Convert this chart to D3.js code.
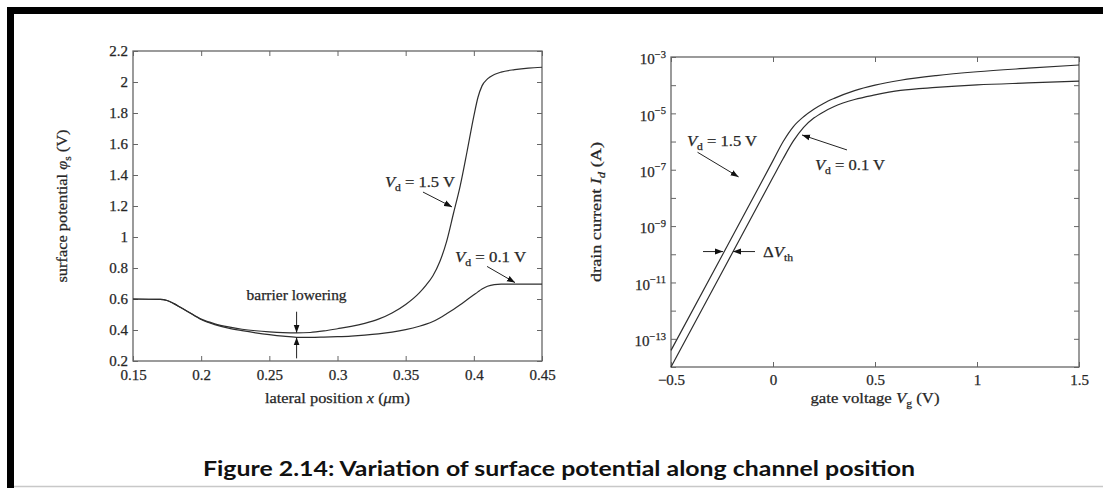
<!DOCTYPE html>
<html>
<head>
<meta charset="utf-8">
<script src="https://cdn.jsdelivr.net/npm/d3@7"></script>
<style>
  html, body { margin: 0; padding: 0; background: #fff; }
  svg { display: block; }
  .serif { font-family: "Liberation Serif", "DejaVu Serif", serif; fill: #262626; stroke: #262626; stroke-width: 0.25px; }
</style>
</head>
<body>
<svg id="chart" width="1103" height="488"></svg>
<script>
// ---------------- DATA ----------------
// Left panel: surface potential vs lateral position
const leftX = [0.15, 0.17, 0.175, 0.18, 0.185, 0.19, 0.2, 0.21, 0.22, 0.23, 0.24, 0.25, 0.26, 0.27, 0.28, 0.29, 0.30, 0.31, 0.32, 0.33, 0.34, 0.35, 0.36, 0.365, 0.37, 0.375, 0.38, 0.385, 0.39, 0.395, 0.40, 0.403, 0.406, 0.41, 0.415, 0.42, 0.43, 0.44, 0.45];
const leftVd15 = [0.6, 0.598, 0.59, 0.57, 0.545, 0.52, 0.47, 0.44, 0.42, 0.405, 0.395, 0.388, 0.383, 0.381, 0.384, 0.394, 0.408, 0.423, 0.443, 0.47, 0.51, 0.565, 0.64, 0.69, 0.75, 0.84, 0.97, 1.15, 1.33, 1.55, 1.78, 1.9, 1.975, 2.02, 2.048, 2.064, 2.08, 2.09, 2.095];
const leftVd01 = [0.6, 0.598, 0.59, 0.57, 0.545, 0.52, 0.468, 0.435, 0.412, 0.396, 0.382, 0.37, 0.36, 0.353, 0.352, 0.354, 0.357, 0.361, 0.367, 0.375, 0.386, 0.402, 0.424, 0.438, 0.455, 0.478, 0.505, 0.533, 0.563, 0.595, 0.627, 0.646, 0.664, 0.682, 0.693, 0.696, 0.696, 0.696, 0.696];
const leftXTicks = [0.15, 0.2, 0.25, 0.3, 0.35, 0.4, 0.45];
const leftYTicks = [0.2, 0.4, 0.6, 0.8, 1, 1.2, 1.4, 1.6, 1.8, 2, 2.2];

// Right panel: drain current vs gate voltage (log scale)
const rightVg   = [-0.5, -0.25, 0, 0.05, 0.1, 0.15, 0.2, 0.25, 0.3, 0.4, 0.5, 0.625, 0.8, 1.0, 1.25, 1.5];
const rightVd15 = [3.9e-14, 8.9e-11, 2.1e-7, 1.0e-6, 3.4e-6, 7.6e-6, 1.4e-5, 2.3e-5, 3.4e-5, 6.4e-5, 1.0e-4, 1.5e-4, 2.2e-4, 3.0e-4, 4.0e-4, 5.2e-4];
const rightVd01 = [1.0e-14, 2.3e-11, 5.4e-8, 2.5e-7, 1.05e-6, 3.2e-6, 6.8e-6, 1.15e-5, 1.75e-5, 3.1e-5, 4.5e-5, 6.5e-5, 8.3e-5, 1.02e-4, 1.2e-4, 1.4e-4];
const rightXTicks = [-0.5, 0, 0.5, 1, 1.5];
const rightYTicks = [1e-14, 1e-13, 1e-12, 1e-11, 1e-10, 1e-9, 1e-8, 1e-7, 1e-6, 1e-5, 1e-4, 1e-3];
const rightYLabelExps = [-3, -5, -7, -9, -11, -13];

const captionText = "Figure 2.14: Variation of surface potential along channel position";

// ---------------- DRAW ----------------
const svg = d3.select("#chart");
const INK = "#262626", LINE = "#2e2e2e", FRAME = "#666";

// page frame
svg.append("rect").attr("x", 7).attr("y", 7).attr("width", 1096).attr("height", 7).attr("fill", "#000");
svg.append("rect").attr("x", 7).attr("y", 7).attr("width", 7).attr("height", 481).attr("fill", "#000");
svg.append("line").attr("x1", 14).attr("x2", 1103).attr("y1", 486.5).attr("y2", 486.5).attr("stroke", "#c8c8c8").attr("stroke-width", 1.5);

// arrow marker
svg.append("defs").append("marker")
  .attr("id", "ah").attr("markerUnits", "userSpaceOnUse")
  .attr("markerWidth", 9).attr("markerHeight", 7).attr("refX", 8).attr("refY", 3.5)
  .attr("orient", "auto")
  .append("path").attr("d", "M0,0.5 L8,3.5 L0,6.5 Z").attr("fill", "#111");

function rich(g, x, y, parts, opts = {}) {
  const size = opts.size || 15;
  const t = g.append("text").attr("class", "serif").attr("x", x).attr("y", y)
    .attr("font-size", size).attr("text-anchor", opts.anchor || "start");
  if (opts.transform) t.attr("transform", opts.transform);
  if (opts.len) t.attr("textLength", opts.len).attr("lengthAdjust", "spacingAndGlyphs");
  let shift = 0;
  parts.forEach(p => {
    const s = t.append("tspan").text(p.t);
    let target = 0;
    if (p.sub) target = size * 0.25;
    if (p.sup) target = -size * 0.42;
    if (p.sub || p.sup) s.attr("font-size", size * 0.7);
    if (p.it) s.attr("font-style", "italic");
    if (target !== shift) { s.attr("dy", target - shift); shift = target; }
  });
  return t;
}

function arrow(g, x1, y1, x2, y2) {
  g.append("line").attr("x1", x1).attr("y1", y1).attr("x2", x2).attr("y2", y2)
    .attr("stroke", "#222").attr("stroke-width", 1).attr("marker-end", "url(#ah)");
}

function styleAxis(g) {
  g.select(".domain").remove();
  g.selectAll(".tick line").attr("stroke", FRAME).attr("stroke-width", 1);
  g.selectAll(".tick text").attr("class", "serif").attr("font-size", 15).attr("fill", INK);
}

// ---------- Left panel ----------
const xL = d3.scaleLinear().domain([0.15, 0.45]).range([133, 542]);
const yL = d3.scaleLinear().domain([0.2, 2.2]).range([361, 51]);
const gL = svg.append("g");

gL.append("g").attr("transform", `translate(0,${yL.range()[0]})`)
  .call(d3.axisBottom(xL).tickValues(leftXTicks).tickSize(-5).tickPadding(8.5).tickFormat(d3.format(""))).call(styleAxis);
gL.append("g").attr("transform", `translate(0,${yL.range()[1]})`)
  .call(d3.axisTop(xL).tickValues(leftXTicks).tickSize(-5).tickFormat("")).call(styleAxis);
gL.append("g").attr("transform", `translate(${xL.range()[0]},0)`)
  .call(d3.axisLeft(yL).tickValues(leftYTicks).tickSize(-5).tickPadding(5).tickFormat(d3.format(""))).call(styleAxis);
gL.append("g").attr("transform", `translate(${xL.range()[1]},0)`)
  .call(d3.axisRight(yL).tickValues(leftYTicks).tickSize(-5).tickFormat("")).call(styleAxis);
gL.append("rect").attr("x", xL.range()[0]).attr("y", yL.range()[1])
  .attr("width", xL.range()[1] - xL.range()[0]).attr("height", yL.range()[0] - yL.range()[1])
  .attr("fill", "none").attr("stroke", FRAME).attr("stroke-width", 1.3);

const lineL = d3.line().curve(d3.curveMonotoneX);
[leftVd15, leftVd01].forEach(s => {
  gL.append("path").attr("d", lineL(leftX.map((x, i) => [xL(x), yL(s[i])])))
    .attr("fill", "none").attr("stroke", LINE).attr("stroke-width", 1.2);
});

// left annotations
rich(gL, xL(0.3348), yL(1.323), [{t: "V", it: true}, {t: "d", sub: true}, {t: " = 1.5 V"}], {len: 70});
arrow(gL, xL(0.3627), yL(1.29), xL(0.384), yL(1.194));
rich(gL, xL(0.3862), yL(0.839), [{t: "V", it: true}, {t: "d", sub: true}, {t: " = 0.1 V"}], {len: 71});
arrow(gL, xL(0.4097), yL(0.81), xL(0.4302), yL(0.706));
rich(gL, xL(0.27), yL(0.594), [{t: "barrier lowering"}], {anchor: "middle", len: 100});
arrow(gL, xL(0.27), yL(0.518), xL(0.27), yL(0.383));
arrow(gL, xL(0.27), yL(0.217), xL(0.27), yL(0.352));

// left axis titles
rich(gL, (xL.range()[0] + xL.range()[1]) / 2, 403,
  [{t: "lateral position "}, {t: "x", it: true}, {t: " ("}, {t: "μ", it: true}, {t: "m)"}],
  {anchor: "middle", size: 15.5, len: 145});
rich(gL, 0, 0, [{t: "surface potential "}, {t: "φ", it: true}, {t: "s", sub: true}, {t: " (V)"}],
  {anchor: "middle", size: 15.5, len: 153, transform: `translate(67,${(yL.range()[0] + yL.range()[1]) / 2}) rotate(-90)`});

// ---------- Right panel ----------
const xR = d3.scaleLinear().domain([-0.5, 1.5]).range([671, 1079]);
const yR = d3.scaleLog().domain([1e-14, 1e-3]).range([367, 57]);
const gR = svg.append("g");

gR.append("g").attr("transform", `translate(0,${yR.range()[0]})`)
  .call(d3.axisBottom(xR).tickValues(rightXTicks).tickSize(-5).tickPadding(7.5).tickFormat(d3.format(""))).call(styleAxis);
gR.append("g").attr("transform", `translate(0,${yR.range()[1]})`)
  .call(d3.axisTop(xR).tickValues(rightXTicks).tickSize(-5).tickFormat("")).call(styleAxis);
const yAxR = gR.append("g").attr("transform", `translate(${xR.range()[0]},0)`)
  .call(d3.axisLeft(yR).tickValues(rightYTicks).tickSize(-5).tickPadding(5).tickFormat(() => "")).call(styleAxis);
gR.append("g").attr("transform", `translate(${xR.range()[1]},0)`)
  .call(d3.axisRight(yR).tickValues(rightYTicks).tickSize(-5).tickFormat("")).call(styleAxis);

yAxR.selectAll(".tick text").each(function(d) {
  const e = Math.round(Math.log10(d));
  if (!rightYLabelExps.includes(e)) return;
  const t = d3.select(this).attr("dy", "0.45em");
  t.append("tspan").text("10");
  t.append("tspan").text("−" + Math.abs(e)).attr("font-size", 10.5).attr("dy", -6.5);
});

gR.append("rect").attr("x", xR.range()[0]).attr("y", yR.range()[1])
  .attr("width", xR.range()[1] - xR.range()[0]).attr("height", yR.range()[0] - yR.range()[1])
  .attr("fill", "none").attr("stroke", FRAME).attr("stroke-width", 1.3);

const lineR = d3.line().curve(d3.curveMonotoneX);
[rightVd15, rightVd01].forEach(s => {
  gR.append("path").attr("d", lineR(rightVg.map((v, i) => [xR(v), yR(s[i])])))
    .attr("fill", "none").attr("stroke", LINE).attr("stroke-width", 1.2);
});

// right annotations
rich(gR, xR(-0.4216), yR(Math.pow(10, -6.15)), [{t: "V", it: true}, {t: "d", sub: true}, {t: " = 1.5 V"}], {len: 70});
arrow(gR, xR(-0.37), yR(Math.pow(10, -6.38)), xR(-0.1686), yR(Math.pow(10, -7.255)));
rich(gR, xR(0.2059), yR(Math.pow(10, -7.007)), [{t: "V", it: true}, {t: "d", sub: true}, {t: " = 0.1 V"}], {len: 70});
arrow(gR, xR(0.3627), yR(Math.pow(10, -6.298)), xR(0.1422), yR(Math.pow(10, -5.766)));
arrow(gR, xR(-0.343), yR(Math.pow(10, -9.904)), xR(-0.245), yR(Math.pow(10, -9.904)));
arrow(gR, xR(-0.0882), yR(Math.pow(10, -9.904)), xR(-0.196), yR(Math.pow(10, -9.904)));
rich(gR, xR(-0.049), yR(Math.pow(10, -10.09)), [{t: "Δ"}, {t: "V", it: true}, {t: "th", sub: true}], {len: 30});

// right axis titles
rich(gR, (xR.range()[0] + xR.range()[1]) / 2, 403,
  [{t: "gate voltage  "}, {t: "V", it: true}, {t: "g", sub: true}, {t: " (V)"}],
  {anchor: "middle", size: 15.5, len: 129});
rich(gR, 0, 0, [{t: "drain current  "}, {t: "I", it: true}, {t: "d", it: true, sub: true}, {t: " (A)"}],
  {anchor: "middle", size: 15.5, len: 140, transform: `translate(601,${(yR.range()[0] + yR.range()[1]) / 2}) rotate(-90)`});

// caption
svg.append("text").attr("x", 203).attr("y", 476)
  .attr("font-family", "Lato, 'Open Sans', sans-serif").attr("font-weight", 700)
  .attr("font-size", 20).attr("fill", "#111")
  .attr("textLength", 712).attr("lengthAdjust", "spacingAndGlyphs")
  .text(captionText);
</script>
</body>
</html>
